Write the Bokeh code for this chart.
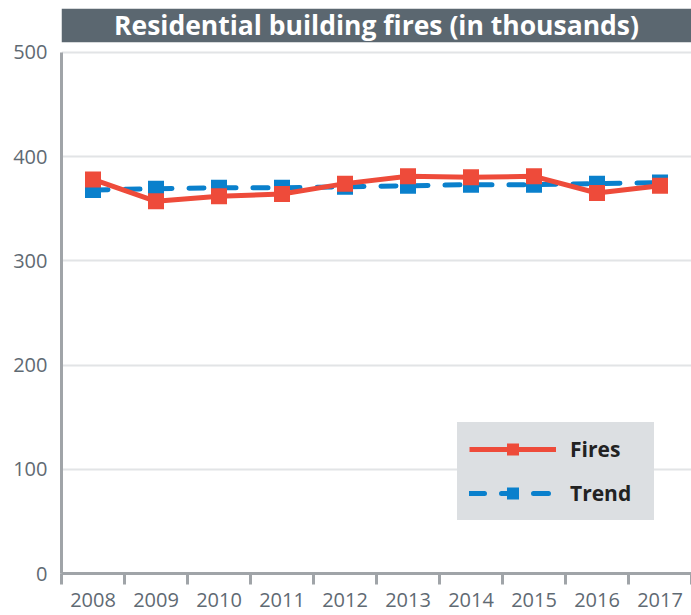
from bokeh.plotting import figure
from bokeh.models import (FixedTicker, Legend, LegendItem, Range1d, BoxAnnotation, Label)
from bokeh.embed import file_html
from bokeh.resources import INLINE

years = [2008, 2009, 2010, 2011, 2012, 2013, 2014, 2015, 2016, 2017]
fires = [378, 357, 362, 364, 374, 381, 380, 381, 365, 372]
trend = [368, 369, 370, 370, 371, 372, 373, 373, 374, 375]
y_ticks = [0, 100, 200, 300, 400, 500]
title_text = "Residential building fires (in thousands)"

FONT = "Open Sans"
RED = "#ee4b3a"
BLUE = "#0a80cc"
GRAY_TXT = "#5f6a73"
AXIS = "#a0a4a8"
BAND = "#5b6770"

Y_MAX = 500
Y_TOP = 542          # room above the data area for the title band
BAND_BOTTOM = 509.6

p = figure(width=691, height=615, output_backend="svg", toolbar_location=None,
           x_range=Range1d(years[0] - 0.5, years[-1] + 0.5),
           y_range=Range1d(0, Y_TOP),
           min_border_left=61, min_border_right=0, min_border_bottom=42,
           min_border_top=8)
p.outline_line_color = None
p.background_fill_color = "white"
p.border_fill_color = "white"

# title band
p.add_layout(BoxAnnotation(bottom=BAND_BOTTOM, fill_color=BAND, fill_alpha=1,
                           line_color=None, level="overlay"))
p.add_layout(Label(x=(years[0] + years[-1]) / 2, y=(BAND_BOTTOM + Y_TOP) / 2,
                   text=title_text, text_align="center", text_baseline="middle",
                   text_font=FONT, text_font_size="26.5px", text_font_style="bold",
                   text_color="white", level="overlay"))

# grid
p.xgrid.grid_line_color = None
p.ygrid.grid_line_color = "#e2e4e6"
p.ygrid.grid_line_width = 2

# y axis
p.yaxis.ticker = FixedTicker(ticks=y_ticks)
p.yaxis.bounds = (0, Y_MAX)
p.yaxis.axis_line_color = AXIS
p.yaxis.axis_line_width = 3
p.yaxis.major_tick_line_color = None
p.yaxis.minor_tick_line_color = None
p.yaxis.major_label_text_font = FONT
p.yaxis.major_label_text_font_size = "20px"
p.yaxis.major_label_text_color = GRAY_TXT
p.yaxis.major_label_standoff = 8

# x axis
bounds = [y - 0.5 for y in years] + [years[-1] + 0.5]
p.xaxis.ticker = FixedTicker(ticks=years, minor_ticks=bounds)
p.xaxis.axis_line_color = AXIS
p.xaxis.axis_line_width = 3
p.xaxis.major_tick_line_color = None
p.xaxis.minor_tick_line_color = AXIS
p.xaxis.minor_tick_line_width = 3
p.xaxis.minor_tick_out = 11
p.xaxis.minor_tick_in = 0
p.xaxis.major_label_text_font = FONT
p.xaxis.major_label_text_font_size = "20px"
p.xaxis.major_label_text_color = GRAY_TXT
p.xaxis.major_label_text_line_height = 1.0
p.xaxis.major_label_standoff = 8

# trend (under)
tl = p.line(years, trend, line_color=BLUE, line_width=5, line_dash="15 17",
            line_cap="round")
ts = p.scatter(years, trend, marker="square", size=16, fill_color=BLUE,
               line_color=None)
# fires (over)
fl = p.line(years, fires, line_color=RED, line_width=5)
fs = p.scatter(years, fires, marker="square", size=16, fill_color=RED,
               line_color=None)

legend = Legend(items=[LegendItem(label="Fires", renderers=[fl, fs]),
                       LegendItem(label="Trend", renderers=[tl, ts])],
                location=(396, 53), margin=0, padding=11, spacing=14,
                glyph_width=87, glyph_height=30, label_height=30,
                label_width=72,
                label_standoff=14, label_text_font=FONT,
                label_text_font_size="21px", label_text_font_style="bold",
                label_text_color="#222222",
                background_fill_color="#dcdfe2", background_fill_alpha=1,
                border_line_color="#dcdfe2", border_line_width=1)
p.add_layout(legend, "center")

open("out.html", "w").write(file_html(p, INLINE))
